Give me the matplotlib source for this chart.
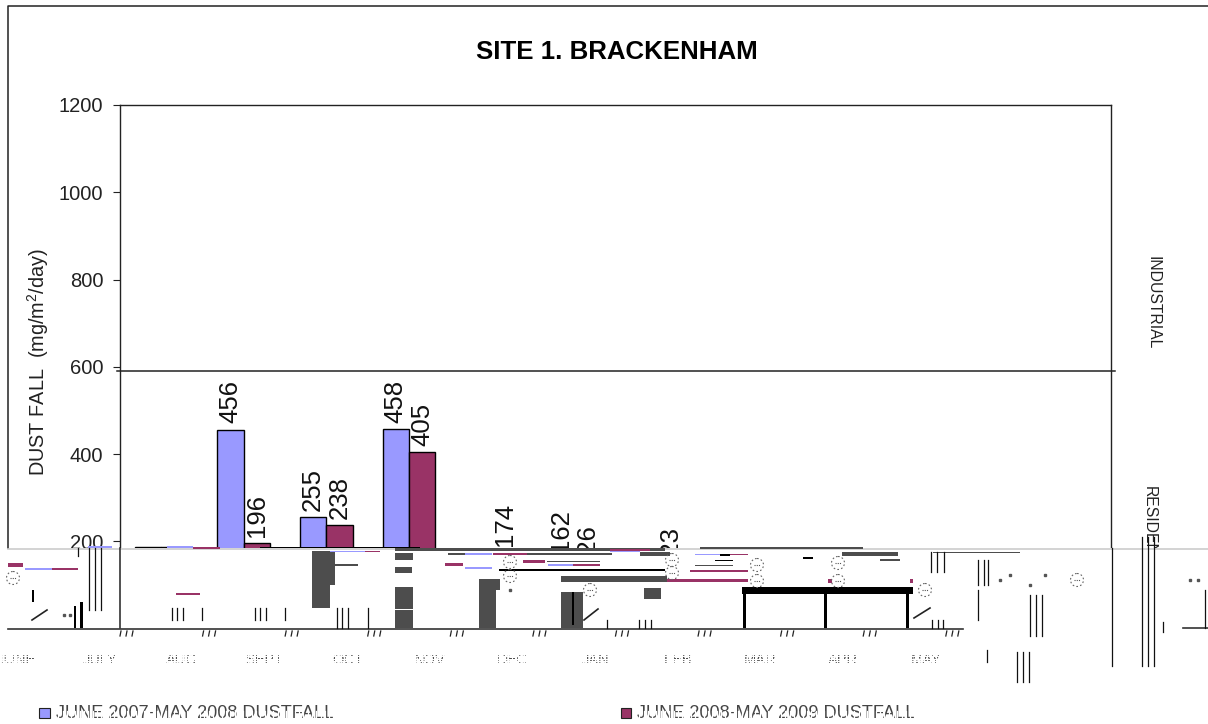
#!/usr/bin/env python
# -*- coding: utf-8 -*-
"""SITE 1. BRACKENHAM dust fall chart, including the damaged band of the source image"""

import numpy as np
import matplotlib
matplotlib.use('Agg')
import matplotlib.pyplot as plt
from matplotlib.patches import Rectangle, Circle

plt.rcParams['font.family'] = ['Liberation Sans', 'DejaVu Sans']

# chart values (nan = hidden by the damaged band and not readable)
nan = float('nan')
months = ['JUNE', 'JULY', 'AUG', 'SEPT', 'OCT', 'NOV', 'DEC', 'JAN', 'FEB', 'MAR', 'APR', 'MAY']
dust_2007 = [186, 456, 255, 458, nan, 162, nan, nan, nan, nan, nan, nan]
dust_2008 = [186, 196, 238, 405, 174, 126, 123, nan, nan, nan, nan, nan]
labelled_2007 = [False, True, True, True, False, True, False, False, False, False, False, False]
labelled_2008 = [False, True, True, True, True, True, True, False, False, False, False, False]
y_ticks = [0, 200, 400, 600, 800, 1000, 1200]
limit_industrial = 590

series_names = ['JUNE 2007-MAY 2008 DUSTFALL', 'JUNE 2008-MAY 2009 DUSTFALL']
BLUE = '#9999ff'
PURPLE = '#993366'
DARK = '#4d4d4d'

# leftovers of the damaged band, in image pixels (x0, x1, y0, y1)
grey_blocks = [
    (312, 335, 551, 585), (312, 330, 585, 608), (335, 358, 564, 566),
    (395, 413, 587, 609), (395, 413, 610, 628), (395, 413, 553, 560), (395, 412, 567, 573),
    (479, 500, 579, 590), (479, 496, 590, 628),
    (561, 583, 592, 628), (561, 667, 576, 582), (644, 661, 588, 599),
    (395, 665, 548, 551), (448, 465, 553, 555), (520, 612, 553, 555), (547, 600, 561, 562),
    (640, 670, 552, 556), (695, 733, 565, 566), (880, 900, 559, 561),
    (842, 898, 552, 556), (700, 863, 547, 549), (933, 1020, 552, 553),
]
black_blocks = [
    (742, 913, 587, 594), (743, 746, 594, 628), (824, 827, 594, 628),
    (906, 909, 594, 628), (499, 665, 569, 571), (80, 83, 602, 628), (74, 76, 606, 628),
    (572, 574, 592, 625), (260, 420, 547, 548), (32, 34, 590, 602),
    (715, 733, 560, 561), (720, 730, 554, 556), (803, 813, 557, 559),
]
purple_stripes = [
    (667, 748, 579, 582), (8, 23, 563, 567), (52, 78, 568, 570), (445, 463, 563, 566),
    (523, 545, 560, 563), (176, 200, 593, 595), (910, 913, 579, 583), (828, 832, 579, 583),
    (493, 527, 553, 555), (610, 650, 549, 551), (193, 220, 547, 549), (353, 380, 551, 552),
    (573, 600, 564, 566), (690, 748, 570, 572), (730, 748, 554, 555),
]
blue_stripes = [
    (88, 112, 546, 548), (167, 193, 546, 548), (25, 52, 568, 570), (465, 492, 567, 569),
    (465, 492, 553, 555), (548, 573, 564, 566), (330, 365, 551, 552), (695, 720, 554, 555),
    (610, 640, 551, 552),
]
thin_verticals = [
    (172, 608, 620), (177, 608, 620), (183, 608, 620), (202, 608, 620),
    (255, 608, 620), (260, 608, 620), (266, 608, 620), (285, 608, 620),
    (337, 608, 628), (342, 608, 628), (348, 608, 628), (368, 608, 628),
    (607, 620, 628), (639, 620, 628), (645, 620, 628), (651, 620, 628),
    (932, 620, 628), (938, 620, 628), (943, 620, 628), (978, 590, 620),
    (89, 548, 610), (95, 548, 610), (101, 548, 610), (78, 548, 556),
    (931, 552, 572), (937, 552, 572), (944, 552, 572),
    (978, 560, 585), (984, 560, 585), (988, 560, 585),
    (1030, 595, 636), (1036, 595, 636), (1042, 595, 636),
    (1017, 652, 682), (1023, 652, 682), (1029, 652, 682),
    (1142, 537, 666), (1148, 537, 666), (1154, 537, 666), (1112, 548, 666),
    (987, 650, 662), (1205, 590, 628), (1163, 622, 632),
]
slashes = [(32, 620, 47, 610), (914, 618, 930, 608), (584, 620, 598, 609)]
rings = [(13, 578), (510, 562), (510, 576), (672, 560), (672, 573), (757, 565), (757, 581),
         (838, 563), (838, 581), (590, 590), (925, 590), (1077, 580)]
specks = [(510, 590), (1190, 580), (1198, 580), (70, 615), (64, 615), (1000, 580), (1010, 575),
          (1030, 585), (1045, 575)]


fig = plt.figure(figsize=(12.08, 7.24), dpi=100)
ax = fig.add_axes([120 / 1208, 1 - 628.5 / 724, (1111 - 120) / 1208, (628.5 - 105) / 724])

x = np.arange(len(months))
width = 0.32
ax.bar(x - width / 2, dust_2007, width, color=BLUE, edgecolor='black', linewidth=1)
ax.bar(x + width / 2, dust_2008, width, color=PURPLE, edgecolor='black', linewidth=1)

for xs, values, flags in [(x - width / 2, dust_2007, labelled_2007), (x + width / 2, dust_2008, labelled_2008)]:
    for xi, v, show in zip(xs, values, flags):
        if show:
            ax.text(xi, v + 14, str(v), rotation=90, ha='center', va='bottom', fontsize=18.5, color='#111111')

ax.set_xlim(-0.5, len(months) - 0.5)
ax.set_ylim(0, 1200)
ax.set_yticks(y_ticks)
ax.set_xticks([])
ax.tick_params(axis='y', length=5, width=0.8, labelsize=14.5, pad=7, color='#222222', labelcolor='#222222')
ax.set_ylabel('DUST FALL  (mg/m$\\mathregular{^2}$/day)', fontsize=14.3, color='#222222', labelpad=0)
ax.yaxis.set_label_coords((51 - 120) / (1111 - 120), 0.51)
for sp in ax.spines.values():
    sp.set_linewidth(1)
    sp.set_color('#222222')
ax.axhline(limit_industrial, xmin=-0.003, xmax=1.004, color='#222222', linewidth=1.1, clip_on=False)

fig.text(617 / 1208, 1 - 52 / 724, 'SITE 1. BRACKENHAM', ha='center', va='center', fontsize=18.6, fontweight='bold')
fig.text(1153 / 1208, 1 - 303 / 724, 'INDUSTRIAL', rotation=270, ha='center', va='center', fontsize=11.3, color='#222222')
fig.text(1149 / 1208, 1 - 538 / 724, 'RESIDENTIAL', rotation=270, ha='center', va='center', fontsize=11.3, color='#222222')

# overlay in image pixels for the frame and the damaged lower band
over = fig.add_axes([0, 0, 1, 1], zorder=5)
over.set_xlim(0, 1208)
over.set_ylim(724, 0)
over.axis('off')
over.patch.set_alpha(0)


def blocks(items, color, z=3):
    for x0, x1, y0, y1 in items:
        over.add_patch(Rectangle((x0, y0), x1 - x0, y1 - y0, facecolor=color, edgecolor='none', zorder=z))


over.add_patch(Rectangle((0, 548), 1208, 176, facecolor='white', edgecolor='none', zorder=1))
over.plot([8, 8, 1208], [548, 5.5, 5.5], color='#222222', linewidth=1.1, zorder=2)
over.plot([8, 1208], [549, 549], color='#cccccc', linewidth=1.2, zorder=2)
over.plot([120, 120], [548, 628], color='#222222', linewidth=1.1, zorder=2)
over.plot([8, 963], [628.5, 628.5], color='#333333', linewidth=1.2, zorder=2)
over.plot([1183, 1208], [628, 628], color='#333333', linewidth=1.2, zorder=2)

blocks(grey_blocks, DARK)
blocks(black_blocks, 'black')
blocks(purple_stripes, PURPLE)
blocks(blue_stripes, BLUE)

for vx, y0, y1 in thin_verticals:
    over.plot([vx, vx], [y0, y1], color='#111111', linewidth=0.9, zorder=4)
for x0, y0, x1, y1 in slashes:
    over.plot([x0, x1], [y0, y1], color='#222222', linewidth=1.2, zorder=4)
for rx, ry in rings:
    over.add_patch(Circle((rx, ry), 6.5, facecolor='none', edgecolor='#666666', linewidth=0.8,
                          linestyle=(0, (1.5, 2)), zorder=4))
    over.plot([rx - 3, rx + 3], [ry, ry], color='#555555', linewidth=0.8, linestyle=(0, (1, 1)), zorder=4)
for sx, sy in specks:
    over.plot(sx, sy, marker='s', markersize=1.6, color='#555555', zorder=4)

# little tick groups under the base line, one per month
for k in range(len(months)):
    tx = 120 + k * (1111 - 120) / len(months)
    for dx in (0, 6, 12):
        if tx + dx < 960:
            over.plot([tx + dx + 1, tx + dx], [631, 636], color='#222222', linewidth=0.9, zorder=4)

# month names, broken up by white strips as in the source
for k, name in enumerate(months):
    over.text(17 + k * 82.6, 660, name, ha='center', va='center', fontsize=10.5, color='#222222', zorder=3)
for sy in np.arange(652, 668, 2.2):
    over.plot([0, 1030], [sy, sy], color='white', linewidth=0.95, zorder=3.5)
for sx in np.arange(0, 1030, 3.1):
    over.plot([sx, sx], [650, 670], color='white', linewidth=0.8, zorder=3.5)

# legend, the lower half of the text is broken up too
over.add_patch(Rectangle((39, 708), 11, 10, facecolor=BLUE, edgecolor='#222222', linewidth=0.8, zorder=3))
over.add_patch(Rectangle((621, 708), 10, 10, facecolor=PURPLE, edgecolor='#222222', linewidth=0.8, zorder=3))
over.text(56, 713, series_names[0], ha='left', va='center', fontsize=13.1, color='#444444', zorder=3)
over.text(637, 713, series_names[1], ha='left', va='center', fontsize=13.1, color='#444444', zorder=3)
for lx0, lx1 in [(54, 340), (635, 925)]:
    for sx in np.arange(lx0, lx1, 4.3):
        over.plot([sx, sx], [711, 717], color='white', linewidth=0.9, zorder=3.5)

fig.savefig('out.png', dpi=100, facecolor='white')
